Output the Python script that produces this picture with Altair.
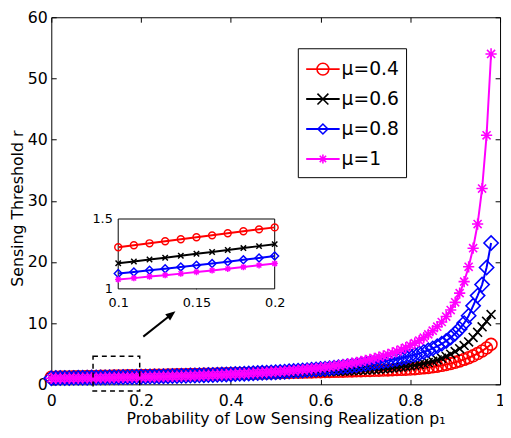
import altair as alt
import pandas as pd

# ---------------- data ----------------
p = [round(i * 0.01, 2) for i in range(99)]

r_mu04 = [1.160, 1.174, 1.188, 1.201, 1.215, 1.229, 1.243, 1.257, 1.270, 1.284, 1.298,
          1.312, 1.326, 1.341, 1.355, 1.369, 1.383, 1.398, 1.412, 1.426, 1.440,
          1.455, 1.469, 1.484, 1.498, 1.513, 1.527, 1.542, 1.556, 1.571, 1.585,
          1.600, 1.615, 1.630, 1.645, 1.660, 1.675, 1.690, 1.705, 1.720, 1.735,
          1.751, 1.766, 1.782, 1.797, 1.813, 1.828, 1.844, 1.859, 1.875, 1.890,
          1.907, 1.923, 1.940, 1.956, 1.973, 1.989, 2.006, 2.022, 2.039, 2.055,
          2.074, 2.092, 2.111, 2.129, 2.148, 2.166, 2.185, 2.203, 2.222, 2.240,
          2.260, 2.281, 2.303, 2.327, 2.352, 2.378, 2.406, 2.436, 2.469, 2.500,
          2.55, 2.61, 2.68, 2.76, 2.85, 2.96, 3.09, 3.24, 3.41, 3.60,
          3.82, 4.07, 4.35, 4.67, 5.03, 5.45, 5.95, 6.55]

r_mu06 = [1.050, 1.063, 1.076, 1.089, 1.102, 1.115, 1.128, 1.142, 1.155, 1.169, 1.183,
          1.196, 1.210, 1.223, 1.237, 1.251, 1.264, 1.278, 1.292, 1.306, 1.320,
          1.334, 1.348, 1.362, 1.376, 1.390, 1.404, 1.418, 1.432, 1.446, 1.460,
          1.475, 1.490, 1.505, 1.520, 1.535, 1.550, 1.565, 1.580, 1.595, 1.610,
          1.627, 1.644, 1.661, 1.678, 1.695, 1.712, 1.729, 1.746, 1.763, 1.780,
          1.798, 1.817, 1.836, 1.856, 1.877, 1.898, 1.920, 1.943, 1.966, 1.990,
          2.017, 2.045, 2.074, 2.105, 2.137, 2.170, 2.205, 2.242, 2.281, 2.322,
          2.37, 2.42, 2.475, 2.535, 2.60, 2.67, 2.745, 2.825, 2.91, 3.00,
          3.11, 3.24, 3.39, 3.56, 3.76, 3.99, 4.26, 4.57, 4.93, 5.35,
          5.82, 6.34, 6.92, 7.67, 8.50, 9.40, 10.30, 11.40]

r_mu08 = [1.005, 1.015, 1.024, 1.034, 1.044, 1.055, 1.065, 1.076, 1.087, 1.098, 1.110,
          1.121, 1.133, 1.144, 1.157, 1.169, 1.181, 1.194, 1.208, 1.221, 1.235,
          1.250, 1.266, 1.282, 1.298, 1.315, 1.333, 1.351, 1.369, 1.388, 1.407,
          1.428, 1.450, 1.472, 1.496, 1.519, 1.544, 1.569, 1.595, 1.622, 1.650,
          1.679, 1.709, 1.740, 1.771, 1.805, 1.839, 1.875, 1.912, 1.950, 1.990,
          2.032, 2.075, 2.120, 2.167, 2.217, 2.268, 2.322, 2.379, 2.438, 2.500,
          2.564, 2.632, 2.703, 2.778, 2.857, 2.941, 3.030, 3.125, 3.226, 3.333,
          3.428, 3.529, 3.637, 3.754, 3.880, 4.008, 4.148, 4.300, 4.467, 4.650,
          4.842, 5.056, 5.294, 5.563, 5.867, 6.214, 6.615, 7.083, 7.636, 8.300,
          9.06, 10.00, 11.21, 12.83, 14.50, 16.30, 19.10, 23.10]

r_mu10 = [0.970, 0.979, 0.988, 0.997, 1.006, 1.016, 1.026, 1.036, 1.046, 1.056, 1.067,
          1.077, 1.088, 1.098, 1.109, 1.121, 1.132, 1.144, 1.156, 1.169, 1.181,
          1.197, 1.213, 1.229, 1.246, 1.263, 1.281, 1.299, 1.318, 1.337, 1.357,
          1.380, 1.404, 1.429, 1.455, 1.481, 1.508, 1.536, 1.565, 1.594, 1.625,
          1.660, 1.697, 1.734, 1.773, 1.814, 1.856, 1.899, 1.944, 1.991, 2.040,
          2.095, 2.152, 2.212, 2.274, 2.339, 2.407, 2.478, 2.552, 2.630, 2.713,
          2.804, 2.900, 3.001, 3.108, 3.221, 3.341, 3.468, 3.603, 3.747, 3.900,
          4.069, 4.250, 4.444, 4.654, 4.880, 5.125, 5.391, 5.682, 6.000, 6.350,
          6.732, 7.156, 7.629, 8.163, 8.767, 9.429, 10.19, 11.08, 12.14, 13.40,
          14.91, 16.79, 19.21, 22.25, 26.2, 32.0, 40.7, 54.0]

series_labels = ["μ=0.4", "μ=0.6", "μ=0.8", "μ=1"]
series_values = [r_mu04, r_mu06, r_mu08, r_mu10]
series_colors = ["#ff0000", "#000000", "#0000ff", "#ff00ff"]

x_ticks = [0, 0.2, 0.4, 0.6, 0.8, 1]
y_ticks = [0, 10, 20, 30, 40, 50, 60]
x_domain = [0, 1]
y_domain = [0, 60]

inset_x_ticks = [0.1, 0.15, 0.2]
inset_minor_x = [0.15]
inset_y_ticks = [1, 1.5]
inset_x_domain = [0.1, 0.2]
inset_y_domain = [1, 1.5]

zoom_box_x = [0.093, 0.197]
zoom_box_y = [-1.1, 4.6]
arrow_tail = [0.205, 7.8]
arrow_head = [0.268, 11.45]

x_title = "Probability of Low Sensing Realization p₁"
y_title = "Sensing Threshold r"

# ---------------- styling ----------------
FONT = "DejaVu Sans"
W, H = 456, 373
SHAPE_X = "M-1,-1L1,1M-1,1L1,-1"
SHAPE_STAR = "M-1,0L1,0M0,-1L0,1M-0.72,-0.72L0.72,0.72M-0.72,0.72L0.72,-0.72"
series_shapes = ["circle", SHAPE_X, "diamond", SHAPE_STAR]
main_sizes = [144, 81, 210, 130]
inset_sizes = [49, 30, 64, 42]

xs = alt.Scale(domain=x_domain, nice=False, zero=False)
ys = alt.Scale(domain=y_domain, nice=False, zero=False)
ixs = alt.Scale(domain=inset_x_domain, range=[68, 227], nice=False, zero=False)
iys = alt.Scale(domain=inset_y_domain, range=[276, 205], nice=False, zero=False)

ax_x_labels = alt.Axis(orient="bottom", values=x_ticks, format="~r", ticks=False, domain=False,
                       grid=False, labelPadding=9, labelFontSize=16, labelFont=FONT,
                       labelColor="black", labelFlush=False, labelOverlap=False,
                       title=x_title, titleFontSize=16, titleFont=FONT, titleFontWeight="normal",
                       titleColor="black", titleX=238, titleY=40, titleAlign="center",
                       titleBaseline="alphabetic")
ax_y_labels = alt.Axis(orient="left", values=y_ticks, format="d", ticks=False, domain=False,
                       grid=False, labelPadding=4, labelFontSize=16, labelFont=FONT,
                       labelColor="black", labelFlush=False, labelOverlap=False,
                       title=y_title, titleFontSize=16, titleFont=FONT, titleFontWeight="normal",
                       titleColor="black", titleX=-29, titleY=194, titleAngle=270,
                       titleAlign="center", titleBaseline="alphabetic")


def tick_axis(orient, values, offset, size):
    return alt.Axis(orient=orient, values=values, offset=offset, tickSize=size, tickColor="black",
                    tickWidth=1, labels=False, domain=False, grid=False, title=None)


main_x_axes = [ax_x_labels, tick_axis("bottom", x_ticks, -5, 5), tick_axis("top", x_ticks, -5, 5), None]
main_y_axes = [ax_y_labels, tick_axis("left", y_ticks, -5, 5), tick_axis("right", y_ticks, -5, 5), None]

layers = []

# main curves
for i in range(4):
    d = alt.Chart(pd.DataFrame({"p": p, "r": series_values[i]}))
    layers.append(d.mark_line(color=series_colors[i], strokeWidth=2).encode(
        x=alt.X("p:Q", scale=xs, axis=main_x_axes[i]),
        y=alt.Y("r:Q", scale=ys, axis=main_y_axes[i])))
    layers.append(d.mark_point(shape=series_shapes[i], size=main_sizes[i], filled=False,
                               color=series_colors[i], strokeWidth=1.6, opacity=1).encode(
        x=alt.X("p:Q", scale=xs, axis=None),
        y=alt.Y("r:Q", scale=ys, axis=None)))

# dashed zoom box
zoom_df = pd.DataFrame({"x0": [zoom_box_x[0]], "x1": [zoom_box_x[1]],
                        "y0": [zoom_box_y[0]], "y1": [zoom_box_y[1]]})
layers.append(alt.Chart(zoom_df).mark_rect(fillOpacity=0, stroke="black", strokeWidth=1.5,
                                           strokeDash=[5, 4]).encode(
    x=alt.X("x0:Q", scale=xs, axis=None), x2="x1:Q",
    y=alt.Y("y0:Q", scale=ys, axis=None), y2="y1:Q"))

# arrow
arrow_df = pd.DataFrame({"x0": [arrow_tail[0]], "y0": [arrow_tail[1]],
                         "x1": [arrow_head[0]], "y1": [arrow_head[1]]})
layers.append(alt.Chart(arrow_df).mark_rule(color="black", strokeWidth=2).encode(
    x=alt.X("x0:Q", scale=xs, axis=None), x2="x1:Q",
    y=alt.Y("y0:Q", scale=ys, axis=None), y2="y1:Q"))
layers.append(alt.Chart(arrow_df).mark_point(shape="M1,0L-1,-0.8L-1,0.8Z", size=100, filled=True,
                                             color="black", opacity=1, angle=322).encode(
    x=alt.X("x1:Q", scale=xs, axis=None),
    y=alt.Y("y1:Q", scale=ys, axis=None)))

# inset
inset_df = pd.DataFrame({"x0": [inset_x_domain[0]], "x1": [inset_x_domain[1]],
                         "y0": [inset_y_domain[0]], "y1": [inset_y_domain[1]]})
ax_ix_labels = alt.Axis(orient="bottom", offset=-97, values=inset_x_ticks, format="~r", ticks=False,
                        domain=False, grid=False, labelPadding=8, labelFontSize=13, labelFont=FONT,
                        labelColor="black", labelFlush=False, labelOverlap=False, title=None)
ax_iy_labels = alt.Axis(orient="left", offset=-68, values=inset_y_ticks, format="~r", ticks=False,
                        domain=False, grid=False, labelPadding=6, labelFontSize=13, labelFont=FONT,
                        labelColor="black", labelFlush=False, labelOverlap=False, title=None)
layers.append(alt.Chart(inset_df).mark_rect(fill="white", stroke="black", strokeWidth=1).encode(
    x=alt.X("x0:Q", scale=ixs, axis=ax_ix_labels), x2="x1:Q",
    y=alt.Y("y0:Q", scale=iys, axis=ax_iy_labels), y2="y1:Q"))

inset_x_axes = [tick_axis("bottom", inset_minor_x, -100, 3), tick_axis("top", inset_minor_x, -208, 3), None, None]
for i in range(4):
    d = alt.Chart(pd.DataFrame({"p": p, "r": series_values[i]})).transform_filter(
        (alt.datum.p >= inset_x_domain[0] - 1e-9) & (alt.datum.p <= inset_x_domain[1] + 1e-9))
    layers.append(d.mark_line(color=series_colors[i], strokeWidth=2).encode(
        x=alt.X("p:Q", scale=ixs, axis=inset_x_axes[i]),
        y=alt.Y("r:Q", scale=iys, axis=None)))
    layers.append(d.mark_point(shape=series_shapes[i], size=inset_sizes[i], filled=False,
                               color=series_colors[i], strokeWidth=1.5, opacity=1).encode(
        x=alt.X("p:Q", scale=ixs, axis=None),
        y=alt.Y("r:Q", scale=iys, axis=None)))

# legend
layers.append(alt.Chart(pd.DataFrame({"a": [0]})).mark_rect(fill="white", stroke="black",
                                                           strokeWidth=1).encode(
    x=alt.value(251), x2=alt.value(361), y=alt.value(32), y2=alt.value(163)))
leg_df = pd.DataFrame({"label": series_labels})
leg_y = alt.Y("label:N", scale=alt.Scale(type="point", domain=series_labels, range=[52.7, 144], padding=0),
              axis=None)
leg_color = alt.Color("label:N", scale=alt.Scale(domain=series_labels, range=series_colors), legend=None)
layers.append(alt.Chart(leg_df).mark_rule(strokeWidth=2).encode(
    x=alt.value(259), x2=alt.value(293), y=leg_y, color=leg_color))
layers.append(alt.Chart(leg_df).mark_point(filled=False, strokeWidth=1.6, opacity=1).encode(
    x=alt.value(276), y=leg_y, color=leg_color,
    shape=alt.Shape("label:N", scale=alt.Scale(domain=series_labels, range=series_shapes), legend=None),
    size=alt.Size("label:O", scale=alt.Scale(domain=series_labels, range=main_sizes), legend=None)))
layers.append(alt.Chart(leg_df).mark_text(align="left", baseline="middle", fontSize=19, font=FONT,
                                          color="black").encode(
    x=alt.value(295), y=leg_y, text="label:N"))

chart = alt.layer(*layers).resolve_scale(
    x="independent", y="independent"
).resolve_axis(
    x="independent", y="independent"
).properties(
    width=W, height=H,
    padding={"left": 44, "top": 6, "right": 3, "bottom": 43},
    autosize=alt.AutoSizeParams(type="none"),
).configure_view(stroke="black", strokeWidth=1).configure_axis(grid=False)

chart.save("out.html", embed_options={"renderer": "svg", "actions": False})
